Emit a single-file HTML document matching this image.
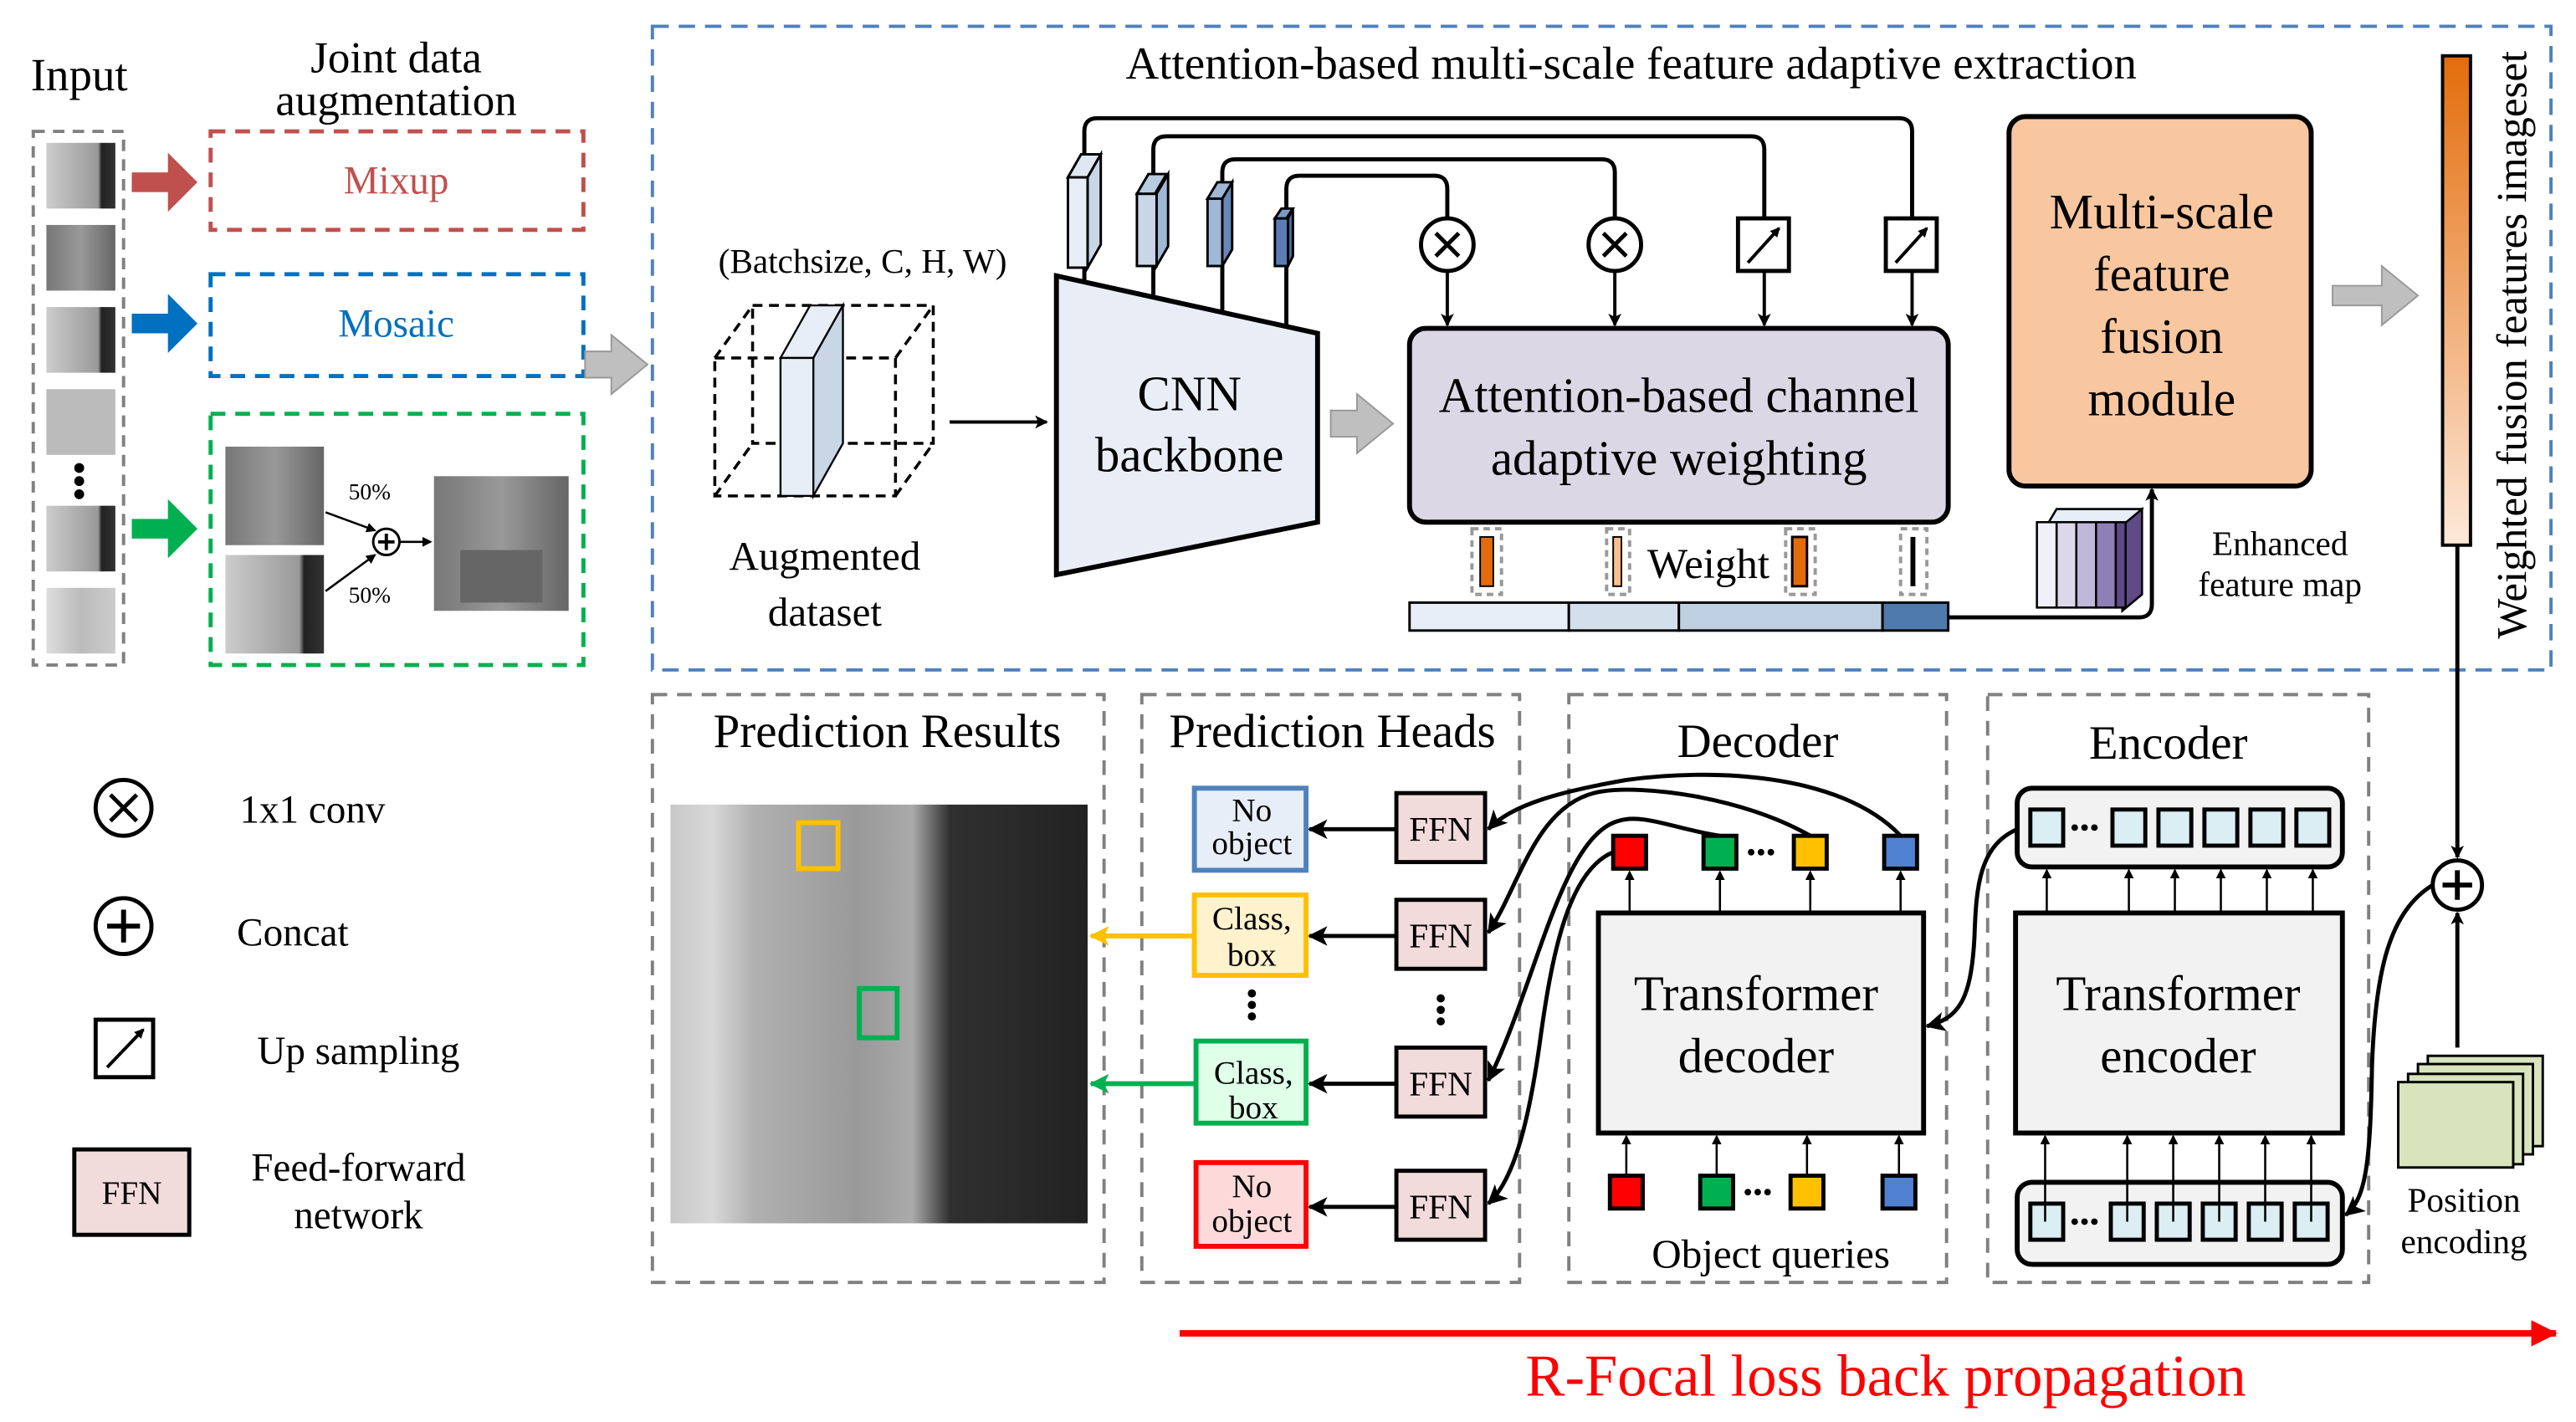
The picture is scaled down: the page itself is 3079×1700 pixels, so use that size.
<!DOCTYPE html>
<html><head><meta charset="utf-8"><style>
html,body{margin:0;padding:0;background:#fff;}
svg{display:block;}
text{font-family:"Liberation Serif",serif;}
</style></head><body>
<svg width="3079" height="1700" viewBox="0 0 1568 866" xmlns="http://www.w3.org/2000/svg">
<defs>
<marker id="ah" markerWidth="8" markerHeight="8" refX="7" refY="4" orient="auto" markerUnits="userSpaceOnUse"><path d="M0,0 L8,4 L0,8 L2,4 z" fill="#000"/></marker>
<marker id="ahs" markerWidth="6" markerHeight="6" refX="5" refY="3" orient="auto" markerUnits="userSpaceOnUse"><path d="M0,0 L6,3 L0,6 z" fill="#000"/></marker>
<marker id="ahL" markerWidth="12" markerHeight="12" refX="11" refY="6" orient="auto" markerUnits="userSpaceOnUse"><path d="M0,0 L12,6 L0,12 L3,6 z" fill="#000"/></marker>
<marker id="ahY" markerWidth="12" markerHeight="12" refX="11" refY="6" orient="auto" markerUnits="userSpaceOnUse"><path d="M0,0 L12,6 L0,12 L3,6 z" fill="#ffc000"/></marker>
<marker id="ahG" markerWidth="12" markerHeight="12" refX="11" refY="6" orient="auto" markerUnits="userSpaceOnUse"><path d="M0,0 L12,6 L0,12 L3,6 z" fill="#00b050"/></marker>
<marker id="ahR" markerWidth="16" markerHeight="16" refX="15" refY="8" orient="auto" markerUnits="userSpaceOnUse"><path d="M0,0 L16,8 L0,16 z" fill="#ff0000"/></marker>
<linearGradient id="img" x1="0" x2="1" y1="0" y2="0">
<stop offset="0" stop-color="#c8c8c8"/><stop offset="0.1" stop-color="#d8d8d8"/><stop offset="0.2" stop-color="#b0b0b0"/><stop offset="0.45" stop-color="#999"/><stop offset="0.58" stop-color="#aaa"/><stop offset="0.67" stop-color="#303030"/><stop offset="1" stop-color="#222"/></linearGradient>
<linearGradient id="wbar" x1="0" x2="0" y1="0" y2="1"><stop offset="0" stop-color="#e36c0a"/><stop offset="1" stop-color="#fde9d9"/></linearGradient>
<linearGradient id="th1" x1="0" x2="1"><stop offset="0" stop-color="#ccc"/><stop offset="0.5" stop-color="#aaa"/><stop offset="0.75" stop-color="#999"/><stop offset="0.8" stop-color="#222"/><stop offset="1" stop-color="#333"/></linearGradient>
<linearGradient id="th2" x1="0" x2="1"><stop offset="0" stop-color="#777"/><stop offset="0.5" stop-color="#999"/><stop offset="1" stop-color="#666"/></linearGradient>
<linearGradient id="th3" x1="0" x2="1"><stop offset="0" stop-color="#ddd"/><stop offset="0.5" stop-color="#bbb"/><stop offset="1" stop-color="#ccc"/></linearGradient>
</defs>

<!-- Input -->
<text x="48" y="55" font-size="28" text-anchor="middle">Input</text>
<rect x="20" y="80" width="55" height="325" fill="none" stroke="#808080" stroke-width="2" stroke-dasharray="7,5"/>
<rect x="28" y="87" width="42" height="40" fill="url(#th1)"/>
<rect x="28" y="137" width="42" height="40" fill="url(#th2)"/>
<rect x="28" y="187" width="42" height="40" fill="url(#th1)"/>
<rect x="28" y="237" width="42" height="40" fill="#bbb"/>
<circle cx="48" cy="285" r="3"/><circle cx="48" cy="293" r="3"/><circle cx="48" cy="301" r="3"/>
<rect x="28" y="308" width="42" height="40" fill="url(#th1)"/>
<rect x="28" y="358" width="42" height="40" fill="url(#th3)"/>
<path d="M80,105 h22 v-12 l18,18 l-18,18 v-12 h-22z" fill="#c0504d"/>
<path d="M80,191 h22 v-12 l18,18 l-18,18 v-12 h-22z" fill="#0070c0"/>
<path d="M80,316 h22 v-12 l18,18 l-18,18 v-12 h-22z" fill="#00b050"/>

<!-- Joint aug -->
<text x="241" y="44" font-size="27" text-anchor="middle">Joint data</text>
<text x="241" y="70" font-size="27" text-anchor="middle">augmentation</text>
<rect x="128" y="80" width="227" height="60" fill="none" stroke="#c0504d" stroke-width="2.5" stroke-dasharray="9,6"/>
<text x="241" y="118" font-size="24" fill="#c0504d" text-anchor="middle">Mixup</text>
<rect x="128" y="167" width="227" height="62" fill="none" stroke="#0070c0" stroke-width="2.5" stroke-dasharray="9,6"/>
<text x="241" y="205" font-size="24" fill="#0070c0" text-anchor="middle">Mosaic</text>
<rect x="128" y="252" width="227" height="153" fill="none" stroke="#00b050" stroke-width="2.5" stroke-dasharray="9,6"/>
<rect x="137" y="272" width="60" height="60" fill="url(#th2)"/>
<rect x="137" y="338" width="60" height="60" fill="url(#th1)"/>
<rect x="264" y="290" width="82" height="82" fill="url(#th2)"/>
<rect x="280" y="335" width="50" height="32" fill="#666"/>
<text x="212" y="304" font-size="14">50%</text>
<text x="212" y="367" font-size="14">50%</text>
<line x1="198" y1="312" x2="228" y2="323" stroke="#000" stroke-width="1.3" marker-end="url(#ahs)"/>
<line x1="198" y1="360" x2="228" y2="338" stroke="#000" stroke-width="1.3" marker-end="url(#ahs)"/>
<circle cx="235" cy="330" r="8" fill="#fff" stroke="#000" stroke-width="1.5"/>
<path d="M230,330 h10 M235,325 v10" stroke="#000" stroke-width="2"/>
<line x1="243" y1="330" x2="262" y2="330" stroke="#000" stroke-width="1.3" marker-end="url(#ahs)"/>
<path d="M356,214 h16 v-10 l22,18 l-22,18 v-10 h-16z" fill="#bfbfbf" stroke="#999"/>

<!-- Big blue box -->
<rect x="397" y="16" width="1156" height="392" fill="none" stroke="#4f81bd" stroke-width="2" stroke-dasharray="10,6"/>
<text x="993" y="48" font-size="28" text-anchor="middle">Attention-based multi-scale feature adaptive extraction</text>
<text x="525" y="166" font-size="21" text-anchor="middle">(Batchsize, C, H, W)</text>
<g fill="none" stroke="#000" stroke-width="1.8" stroke-dasharray="6,4">
<rect x="435" y="218" width="110" height="84"/>
<rect x="458" y="186" width="110" height="84"/>
<line x1="435" y1="218" x2="458" y2="186"/><line x1="545" y1="218" x2="568" y2="186"/>
<line x1="435" y1="302" x2="458" y2="270"/><line x1="545" y1="302" x2="568" y2="270"/>
</g>
<path d="M475,218 l18,-32 h20 l-18,32z" fill="#e8eef7" stroke="#000" stroke-width="1.2"/>
<rect x="475" y="218" width="20" height="84" fill="#e8eef7" stroke="#000" stroke-width="1.2"/>
<path d="M495,218 l18,-32 v84 l-18,32z" fill="#c8d6e6" stroke="#000" stroke-width="1.2"/>
<text x="502" y="347" font-size="25" text-anchor="middle">Augmented</text>
<text x="502" y="381" font-size="25" text-anchor="middle">dataset</text>
<line x1="578" y1="257" x2="637" y2="257" stroke="#000" stroke-width="2" marker-end="url(#ah)"/>

<!-- CNN -->
<path d="M643,168 L802,203 L802,318 L643,350z" fill="#e9eef6" stroke="#000" stroke-width="3"/>
<text x="724" y="250" font-size="30" text-anchor="middle">CNN</text>
<text x="724" y="287" font-size="30" text-anchor="middle">backbone</text>
<!-- skip lines -->
<g fill="none" stroke="#000" stroke-width="2.5">
<path d="M660,172 V80 q0,-8 8,-8 H1156 q8,0 8,8 V133"/>
<path d="M702,180 V91 q0,-8 8,-8 H1066 q8,0 8,8 V133"/>
<path d="M744,190 V105 q0,-8 8,-8 H975 q8,0 8,8 V133"/>
<path d="M783,198 V115 q0,-8 8,-8 H873 q8,0 8,8 V133"/>
</g>
<!-- slabs -->
<g stroke="#000" stroke-width="1.5">
<rect x="650" y="108" width="12" height="55" fill="#e8eef7"/><path d="M650,108 l8,-14 h12 l-8,14z" fill="#dfe7f2"/><path d="M662,108 l8,-14 v55 l-8,14z" fill="#c8d6e6"/>
<rect x="692" y="118" width="12" height="44" fill="#c8d6e6"/><path d="M692,118 l7,-12 h11 l-7,12z" fill="#b8cbe0"/><path d="M704,118 l7,-12 v44 l-7,12z" fill="#9fb8d6"/>
<rect x="735" y="121" width="9" height="41" fill="#9fb8d6"/><path d="M735,121 l6,-10 h9 l-6,10z" fill="#9fb8d6"/><path d="M744,121 l6,-10 v41 l-6,10z" fill="#6688bb"/>
<rect x="776" y="133" width="8" height="29" fill="#5b7db3"/><path d="M776,133 l4,-6 h7 l-4,6z" fill="#7a9ac8"/><path d="M784,133 l3,-6 v29 l-3,6z" fill="#4a6a9e"/>
</g>
<!-- ops -->
<g fill="#fff" stroke="#000" stroke-width="2.5">
<circle cx="881" cy="149" r="16"/><circle cx="983" cy="149" r="16"/>
<rect x="1058" y="133" width="31" height="32"/><rect x="1148" y="133" width="31" height="32"/>
</g>
<g stroke="#000" stroke-width="2.5">
<path d="M874,142 l14,14 M888,142 l-14,14"/><path d="M976,142 l14,14 M990,142 l-14,14"/>
</g>
<line x1="1064" y1="160" x2="1083" y2="139" stroke="#000" stroke-width="2" marker-end="url(#ahs)"/>
<line x1="1154" y1="160" x2="1173" y2="139" stroke="#000" stroke-width="2" marker-end="url(#ahs)"/>
<g stroke="#000" stroke-width="2">
<line x1="881" y1="165" x2="881" y2="198" marker-end="url(#ah)"/>
<line x1="983" y1="165" x2="983" y2="198" marker-end="url(#ah)"/>
<line x1="1074" y1="165" x2="1074" y2="198" marker-end="url(#ah)"/>
<line x1="1164" y1="165" x2="1164" y2="198" marker-end="url(#ah)"/>
</g>
<path d="M810,250 h16 v-10 l22,18 l-22,18 v-10 h-16z" fill="#bfbfbf" stroke="#999"/>
<rect x="858" y="200" width="328" height="118" rx="10" fill="#dcd7e4" stroke="#000" stroke-width="3"/>
<text x="1022" y="251" font-size="30" text-anchor="middle">Attention-based channel</text>
<text x="1022" y="289" font-size="30" text-anchor="middle">adaptive weighting</text>
<!-- weights -->
<g fill="none" stroke="#999" stroke-width="2" stroke-dasharray="4,3">
<rect x="896" y="322" width="18" height="40"/><rect x="978" y="322" width="14" height="40"/><rect x="1087" y="322" width="18" height="40"/><rect x="1157" y="322" width="16" height="40"/>
</g>
<rect x="901" y="327" width="8" height="30" fill="#e36c0a" stroke="#000"/>
<rect x="982" y="327" width="5" height="30" fill="#fabf8f" stroke="#000"/>
<rect x="1091" y="327" width="9" height="30" fill="#e36c0a" stroke="#000" stroke-width="1.5"/>
<rect x="1163" y="327" width="3" height="30" fill="#000"/>
<text x="1040" y="352" font-size="26" text-anchor="middle">Weight</text>
<g stroke="#000" stroke-width="1.5">
<rect x="858" y="367" width="97" height="17" fill="#e8eef7"/>
<rect x="955" y="367" width="67" height="17" fill="#d3dfeb"/>
<rect x="1022" y="367" width="124" height="17" fill="#bfcfe2"/>
<rect x="1146" y="367" width="40" height="17" fill="#4f7aad"/>
</g>
<path d="M1186,376 H1302 q8,0 8,-8 V298" fill="none" stroke="#000" stroke-width="2.5" marker-end="url(#ah)"/>
<!-- enhanced stack -->
<g stroke="#000" stroke-width="1.3">
<path d="M1246,320 l6,-10 h52 l-6,10z" fill="#e8eef7"/>
<path d="M1292,320 l12,-10 v52 l-12,10z" fill="#5e4a86"/>
<rect x="1240" y="318" width="12" height="52" fill="#f0f0f8"/>
<rect x="1252" y="318" width="12" height="52" fill="#dcd8ea"/>
<rect x="1264" y="318" width="12" height="52" fill="#c0b8d8"/>
<rect x="1276" y="318" width="12" height="52" fill="#8e7fb5"/>
<rect x="1288" y="318" width="6" height="52" fill="#5e4a86"/>
</g>
<text x="1388" y="338" font-size="21" text-anchor="middle">Enhanced</text>
<text x="1388" y="363" font-size="21" text-anchor="middle">feature map</text>
<rect x="1223" y="71" width="184" height="225" rx="10" fill="#f8c7a0" stroke="#000" stroke-width="3"/>
<text x="1316" y="139" font-size="30" text-anchor="middle">Multi-scale</text>
<text x="1316" y="177" font-size="30" text-anchor="middle">feature</text>
<text x="1316" y="215" font-size="30" text-anchor="middle">fusion</text>
<text x="1316" y="253" font-size="30" text-anchor="middle">module</text>
<path d="M1420,174 h30 v-12 l22,18 l-22,18 v-12 h-30z" fill="#bfbfbf" stroke="#999"/>
<rect x="1487" y="34" width="17" height="298" fill="url(#wbar)" stroke="#000" stroke-width="2"/>
<text transform="translate(1538,210) rotate(-90)" font-size="26" text-anchor="middle">Weighted fusion features imageset</text>
<line x1="1496" y1="332" x2="1496" y2="522" stroke="#000" stroke-width="2.5" marker-end="url(#ah)"/>
<circle cx="1496" cy="539" r="15" fill="#fff" stroke="#000" stroke-width="2.5"/>
<path d="M1487,539 h18 M1496,530 v18" stroke="#000" stroke-width="3"/>
<line x1="1496" y1="638" x2="1496" y2="556" stroke="#000" stroke-width="2.5" marker-end="url(#ah)"/>

<!-- bottom panels -->
<g fill="none" stroke="#808080" stroke-width="2" stroke-dasharray="9,6">
<rect x="397" y="423" width="275" height="358"/>
<rect x="695" y="423" width="230" height="358"/>
<rect x="955" y="423" width="230" height="358"/>
<rect x="1210" y="423" width="232" height="358"/>
</g>
<text x="540" y="455" font-size="29" text-anchor="middle">Prediction Results</text>
<text x="811" y="455" font-size="29" text-anchor="middle">Prediction Heads</text>
<text x="1070" y="461" font-size="29" text-anchor="middle">Decoder</text>
<text x="1320" y="462" font-size="29" text-anchor="middle">Encoder</text>
<rect x="408" y="490" width="254" height="255" fill="url(#img)"/>
<rect x="486" y="501" width="24" height="28" fill="none" stroke="#ffc000" stroke-width="3"/>
<rect x="523" y="602" width="23" height="30" fill="none" stroke="#00b050" stroke-width="3"/>

<!-- heads -->
<rect x="727" y="480" width="68" height="50" fill="#e8eef7" stroke="#4f81bd" stroke-width="3"/>
<text x="762" y="500" font-size="20" text-anchor="middle">No</text><text x="762" y="520" font-size="20" text-anchor="middle">object</text>
<rect x="727" y="545" width="68" height="49" fill="#fff2cc" stroke="#ffc000" stroke-width="3"/>
<text x="762" y="566" font-size="20" text-anchor="middle">Class,</text><text x="762" y="588" font-size="20" text-anchor="middle">box</text>
<circle cx="762" cy="605" r="2.5"/><circle cx="762" cy="612" r="2.5"/><circle cx="762" cy="619" r="2.5"/>
<circle cx="877" cy="608" r="2.5"/><circle cx="877" cy="615" r="2.5"/><circle cx="877" cy="622" r="2.5"/>
<rect x="728" y="634" width="67" height="50" fill="#dfffe8" stroke="#00b050" stroke-width="3"/>
<text x="763" y="660" font-size="20" text-anchor="middle">Class,</text><text x="763" y="681" font-size="20" text-anchor="middle">box</text>
<rect x="728" y="708" width="67" height="51" fill="#fddada" stroke="#ff0000" stroke-width="3"/>
<text x="762" y="729" font-size="20" text-anchor="middle">No</text><text x="762" y="750" font-size="20" text-anchor="middle">object</text>
<g fill="#f2dcdb" stroke="#000" stroke-width="2.5">
<rect x="850" y="483" width="54" height="42"/><rect x="850" y="548" width="54" height="42"/>
<rect x="850" y="638" width="54" height="42"/><rect x="850" y="713" width="54" height="42"/>
</g>
<g font-size="21" text-anchor="middle">
<text x="877" y="512">FFN</text><text x="877" y="577">FFN</text><text x="877" y="667">FFN</text><text x="877" y="742">FFN</text>
</g>
<g stroke="#000" stroke-width="2.5">
<line x1="850" y1="505" x2="797" y2="505" marker-end="url(#ahL)"/>
<line x1="850" y1="570" x2="797" y2="570" marker-end="url(#ahL)"/>
<line x1="850" y1="660" x2="797" y2="660" marker-end="url(#ahL)"/>
<line x1="850" y1="735" x2="797" y2="735" marker-end="url(#ahL)"/>
</g>
<line x1="727" y1="570" x2="664" y2="570" stroke="#ffc000" stroke-width="3" marker-end="url(#ahY)"/>
<line x1="728" y1="660" x2="664" y2="660" stroke="#00b050" stroke-width="3" marker-end="url(#ahG)"/>

<!-- decoder -->
<rect x="973" y="556" width="198" height="134" fill="#f2f2f2" stroke="#000" stroke-width="3"/>
<text x="1069" y="615" font-size="30" text-anchor="middle">Transformer</text>
<text x="1069" y="653" font-size="30" text-anchor="middle">decoder</text>
<g stroke="#000" stroke-width="2.5">
<rect x="982" y="509" width="20" height="20" fill="#ff0000"/><rect x="1037" y="509" width="20" height="20" fill="#00b050"/>
<rect x="1092" y="509" width="20" height="20" fill="#ffc000"/><rect x="1147" y="509" width="20" height="20" fill="#4f81d0"/>
<rect x="980" y="716" width="20" height="20" fill="#ff0000"/><rect x="1035" y="716" width="20" height="20" fill="#00b050"/>
<rect x="1090" y="716" width="20" height="20" fill="#ffc000"/><rect x="1146" y="716" width="20" height="20" fill="#4f81d0"/>
</g>
<g fill="#000"><circle cx="1066" cy="519" r="2"/><circle cx="1072" cy="519" r="2"/><circle cx="1078" cy="519" r="2"/>
<circle cx="1064" cy="726" r="2"/><circle cx="1070" cy="726" r="2"/><circle cx="1076" cy="726" r="2"/></g>
<g stroke="#000" stroke-width="1.3">
<line x1="992" y1="556" x2="992" y2="531" marker-end="url(#ahs)"/><line x1="1047" y1="556" x2="1047" y2="531" marker-end="url(#ahs)"/>
<line x1="1102" y1="556" x2="1102" y2="531" marker-end="url(#ahs)"/><line x1="1157" y1="556" x2="1157" y2="531" marker-end="url(#ahs)"/>
<line x1="990" y1="716" x2="990" y2="692" marker-end="url(#ahs)"/><line x1="1045" y1="716" x2="1045" y2="692" marker-end="url(#ahs)"/>
<line x1="1100" y1="716" x2="1100" y2="692" marker-end="url(#ahs)"/><line x1="1156" y1="716" x2="1156" y2="692" marker-end="url(#ahs)"/>
</g>
<text x="1078" y="772" font-size="25" text-anchor="middle">Object queries</text>
<!-- curves to FFN -->
<g fill="none" stroke="#000" stroke-width="2.5">
<path d="M1157,509 C1120,470 1040,468 990,475 C950,482 920,490 906,505" marker-end="url(#ahL)"/>
<path d="M1102,509 C1060,485 1000,478 975,482 C935,488 925,540 906,568" marker-end="url(#ahL)"/>
<path d="M1047,509 C1020,505 1000,495 985,500 C950,510 935,600 906,658" marker-end="url(#ahL)"/>
<path d="M982,519 C955,530 945,580 938,630 C930,690 920,720 906,733" marker-end="url(#ahL)"/>
<path d="M1228,505 C1205,515 1203,540 1202,570 C1200,610 1192,620 1173,625" marker-end="url(#ahL)"/>
<path d="M1481,539 C1455,555 1446,590 1444,650 C1443,710 1440,730 1428,740" marker-end="url(#ahL)"/>
</g>

<!-- encoder -->
<rect x="1228" y="480" width="198" height="48" rx="9" fill="#f2f2f2" stroke="#000" stroke-width="3"/>
<rect x="1227" y="556" width="199" height="134" fill="#f2f2f2" stroke="#000" stroke-width="3"/>
<text x="1326" y="615" font-size="30" text-anchor="middle">Transformer</text>
<text x="1326" y="653" font-size="30" text-anchor="middle">encoder</text>
<rect x="1228" y="720" width="198" height="50" rx="9" fill="#f2f2f2" stroke="#000" stroke-width="3"/>
<g fill="#dbeef3" stroke="#000" stroke-width="2.5">
<rect x="1236" y="493" width="20" height="22"/><rect x="1286" y="493" width="20" height="22"/><rect x="1314" y="493" width="20" height="22"/><rect x="1342" y="493" width="20" height="22"/><rect x="1370" y="493" width="20" height="22"/><rect x="1398" y="493" width="20" height="22"/>
<rect x="1236" y="733" width="20" height="22"/><rect x="1285" y="733" width="20" height="22"/><rect x="1313" y="733" width="20" height="22"/><rect x="1341" y="733" width="20" height="22"/><rect x="1369" y="733" width="20" height="22"/><rect x="1397" y="733" width="20" height="22"/>
</g>
<g fill="#000"><circle cx="1263" cy="504" r="2"/><circle cx="1269" cy="504" r="2"/><circle cx="1275" cy="504" r="2"/>
<circle cx="1263" cy="744" r="2"/><circle cx="1269" cy="744" r="2"/><circle cx="1275" cy="744" r="2"/></g>
<g stroke="#000" stroke-width="1.3">
<line x1="1246" y1="556" x2="1246" y2="530" marker-end="url(#ahs)"/><line x1="1296" y1="556" x2="1296" y2="530" marker-end="url(#ahs)"/><line x1="1324" y1="556" x2="1324" y2="530" marker-end="url(#ahs)"/><line x1="1352" y1="556" x2="1352" y2="530" marker-end="url(#ahs)"/><line x1="1380" y1="556" x2="1380" y2="530" marker-end="url(#ahs)"/><line x1="1408" y1="556" x2="1408" y2="530" marker-end="url(#ahs)"/>
<line x1="1245" y1="744" x2="1245" y2="692" marker-end="url(#ahs)"/><line x1="1295" y1="744" x2="1295" y2="692" marker-end="url(#ahs)"/><line x1="1323" y1="744" x2="1323" y2="692" marker-end="url(#ahs)"/><line x1="1351" y1="744" x2="1351" y2="692" marker-end="url(#ahs)"/><line x1="1379" y1="744" x2="1379" y2="692" marker-end="url(#ahs)"/><line x1="1407" y1="744" x2="1407" y2="692" marker-end="url(#ahs)"/>
</g>
<!-- position encoding -->
<g fill="#d8e4bc" stroke="#000" stroke-width="1.5">
<rect x="1478" y="643" width="70" height="55"/><rect x="1472" y="648" width="70" height="55"/><rect x="1466" y="654" width="70" height="55"/><rect x="1460" y="659" width="70" height="52"/>
</g>
<text x="1500" y="738" font-size="21" text-anchor="middle">Position</text>
<text x="1500" y="763" font-size="21" text-anchor="middle">encoding</text>

<!-- legend -->
<circle cx="75" cy="492" r="17" fill="#fff" stroke="#000" stroke-width="2.5"/>
<path d="M67,484 l16,16 M83,484 l-16,16" stroke="#000" stroke-width="2.5"/>
<text x="190" y="501" font-size="24" text-anchor="middle">1x1 conv</text>
<circle cx="75" cy="564" r="17" fill="#fff" stroke="#000" stroke-width="2.5"/>
<path d="M65,564 h20 M75,554 v20" stroke="#000" stroke-width="3"/>
<text x="178" y="576" font-size="24" text-anchor="middle">Concat</text>
<rect x="58" y="621" width="35" height="35" fill="#fff" stroke="#000" stroke-width="2.5"/>
<line x1="65" y1="650" x2="87" y2="627" stroke="#000" stroke-width="2" marker-end="url(#ahs)"/>
<text x="218" y="648" font-size="24" text-anchor="middle">Up sampling</text>
<rect x="45" y="700" width="70" height="52" fill="#f2dcdb" stroke="#000" stroke-width="2.5"/>
<text x="80" y="733" font-size="20" text-anchor="middle">FFN</text>
<text x="218" y="719" font-size="24" text-anchor="middle">Feed-forward</text>
<text x="218" y="748" font-size="24" text-anchor="middle">network</text>

<!-- red arrow -->
<line x1="718" y1="812" x2="1556" y2="812" stroke="#ff0000" stroke-width="4" marker-end="url(#ahR)"/>
<text x="1148" y="850" font-size="36" fill="#ff0000" text-anchor="middle">R-Focal loss back propagation</text>
</svg>
</body></html>
